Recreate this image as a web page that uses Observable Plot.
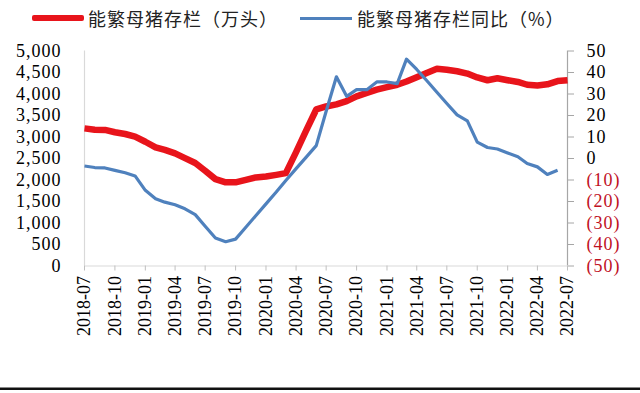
<!DOCTYPE html>
<html>
<head>
<meta charset="utf-8">
<script src="https://cdn.jsdelivr.net/npm/d3@7"></script>
<script src="https://cdn.jsdelivr.net/npm/@observablehq/plot@0.6"></script>
<style>
  html, body { margin: 0; padding: 0; background: #fff; }
  #wrap { position: relative; width: 640px; height: 393px; overflow: hidden; }
  #legend { position: relative; height: 36px; width: 640px; font-family: "Noto Sans CJK SC", sans-serif; font-size: 18px; color: #222; }
  .sw { position: absolute; }
  .lt { position: absolute; top: 6px; line-height: 24px; letter-spacing: 1px; white-space: nowrap; }
  #chart svg { display: block; }
  #chart [aria-label="y-axis tick label"] text { letter-spacing: 1px; }
  #rule { position: absolute; left: 0; top: 387px; width: 640px; height: 0; border-top: 1px solid #888; border-bottom: 2px solid #111; }
</style>
</head>
<body>
<div id="wrap">
  <div id="legend">
    <div class="sw" style="left:32px; top:15px; width:52px; height:6px; background:#e8141b; border-radius:2px;"></div>
    <div class="lt" style="left:88px;">能繁母猪存栏（万头）</div>
    <div class="sw" style="left:300px; top:16.5px; width:52px; height:3px; background:#4f81bd;"></div>
    <div class="lt" style="left:357px;">能繁母猪存栏同比（%）</div>
  </div>
  <div id="chart"></div>
  <div id="rule"></div>
</div>
<script>
// Months (red series covers all, blue ends 2022-06)
const months = [
  "2018-07","2018-08","2018-09","2018-10","2018-11","2018-12",
  "2019-01","2019-02","2019-03","2019-04","2019-05","2019-06",
  "2019-07","2019-08","2019-09","2019-10","2019-11","2019-12",
  "2020-01","2020-02","2020-03","2020-04","2020-05","2020-06",
  "2020-07","2020-08","2020-09","2020-10","2020-11","2020-12",
  "2021-01","2021-02","2021-03","2021-04","2021-05","2021-06",
  "2021-07","2021-08","2021-09","2021-10","2021-11","2021-12",
  "2022-01","2022-02","2022-03","2022-04","2022-05","2022-06",
  "2022-07"
];
// 能繁母猪存栏（万头）
const sowStock = [
  3200, 3170, 3165, 3110, 3070, 3010,
  2890, 2760, 2700, 2620, 2510, 2395,
  2215, 2020, 1945, 1945, 2005, 2060,
  2080, 2120, 2160, 2650, 3140, 3640,
  3710, 3760, 3835, 3945, 4025, 4100,
  4160, 4215, 4290, 4390, 4490, 4585,
  4565, 4530, 4475, 4385, 4320, 4365,
  4320, 4280, 4215, 4200, 4225, 4300,
  4320
];
// 能繁母猪存栏同比（%）
const sowYoY = [
  -3.5, -4.2, -4.4, -5.5, -6.6, -8.1,
  -14.8, -18.7, -20.3, -21.5, -23.4, -26.1,
  -31.5, -37.0, -38.7, -37.5, -32.0, -26.6,
  -21.1, -15.6, -10.2, -4.7, 0.5, 6.0,
  22.0, 38.0, 28.9, 32.0, 32.0, 35.6,
  35.6, 34.8, 46.2, 41.4, 36.3, 30.8,
  25.6, 20.3, 17.5, 7.6, 5.1, 4.4,
  2.6, 0.8, -2.3, -3.9, -7.4, -5.5
];
const xTickLabels = [
  "2018-07","2018-10","2019-01","2019-04","2019-07","2019-10",
  "2020-01","2020-04","2020-07","2020-10","2021-01","2021-04",
  "2021-07","2021-10","2022-01","2022-04","2022-07"
];
const leftTicks = [0, 500, 1000, 1500, 2000, 2500, 3000, 3500, 4000, 4500, 5000];
const rightTicks = [-50, -40, -30, -20, -10, 0, 10, 20, 30, 40, 50];

const parse = d3.utcParse("%Y-%m");
const fmt = d3.utcFormat("%Y-%m");
const RED = "#e8141b", BLUE = "#4f81bd", NEG = "#c0111f";

// map right-axis percent onto left-axis scale (-50..50 -> 0..5000)
const pctToLeft = p => (p + 50) * 50;

const redData = months.map((m, i) => ({date: parse(m), value: sowStock[i]}));
const blueData = sowYoY.map((v, i) => ({date: parse(months[i]), value: pctToLeft(v)}));
const xTicks = xTickLabels.map(parse);
const x0 = parse(months[0]), x1 = parse(months[months.length - 1]);

const H = 357;
const chart = Plot.plot({
  width: 640,
  height: H,
  marginLeft: 84,
  marginRight: 73,
  marginTop: 14.5,
  marginBottom: H - 229.5,
  style: {fontFamily: "'Liberation Serif', 'Times New Roman', serif", fontSize: "18px", color: "#000", background: "#fff"},
  x: {type: "utc", domain: [x0, x1]},
  y: {domain: [0, 5000]},
  marks: [
    Plot.ruleX([x0], {stroke: "#d9d9d9", strokeWidth: 1.2}),
    Plot.ruleX([x1], {stroke: "#a6a6a6", strokeWidth: 1.2}),
    Plot.ruleY([0], {stroke: "#d9d9d9", strokeWidth: 1.2}),
    Plot.axisX({ticks: xTicks, tickFormat: fmt, tickRotate: -90, tickSize: 5, tickPadding: 5, stroke: "#bfbfbf", fill: "#000", fontSize: 18, label: null}),
    Plot.axisY({anchor: "left", ticks: leftTicks, tickFormat: d3.format(","), tickSize: 0, tickPadding: 23, fill: "#000", fontSize: 18, label: null}),
    Plot.axisY({anchor: "right", ticks: rightTicks.filter(p => p >= 0).map(pctToLeft), tickFormat: v => String(v / 50 - 50), tickSize: 6, tickPadding: 13, stroke: "#a6a6a6", fill: "#000", fontSize: 18, label: null, textAnchor: "start"}),
    Plot.axisY({anchor: "right", ticks: rightTicks.filter(p => p < 0).map(pctToLeft), tickFormat: v => "(" + Math.abs(v / 50 - 50) + ")", tickSize: 6, tickPadding: 13, stroke: "#a6a6a6", fill: NEG, fontSize: 18, label: null, textAnchor: "start"}),
    Plot.line(redData, {x: "date", y: "value", stroke: RED, strokeWidth: 6.5, strokeLinejoin: "round", strokeLinecap: "butt"}),
    Plot.line(blueData, {x: "date", y: "value", stroke: BLUE, strokeWidth: 3.2, strokeLinejoin: "round", strokeLinecap: "butt"})
  ]
});
document.getElementById("chart").appendChild(chart);
</script>
</body>
</html>
